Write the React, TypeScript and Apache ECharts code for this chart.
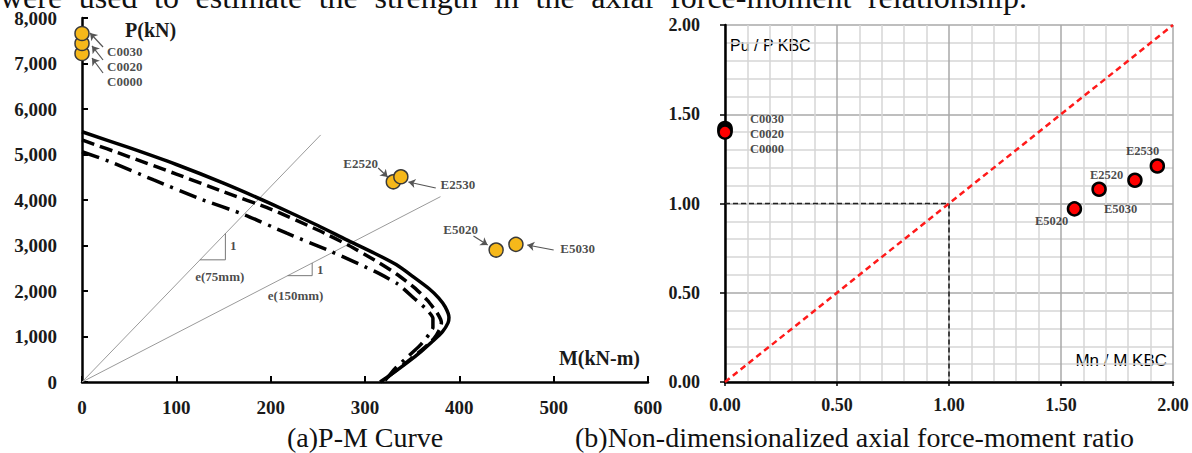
import React, { useEffect, useRef } from "react";
import * as echarts from "echarts";

// ---------- texts ----------
const TOP_TEXT = "were used to estimate the strength in the axial force-moment relationship.";
const CAPTION_A = "(a)P-M Curve";
const CAPTION_B = "(b)Non-dimensionalized axial force-moment ratio";

// ---------- (a) P-M curves : [M (kN-m), P (kN)] ----------
const PM_SOLID: number[][] = [[0, 5500], [50, 5150], [100, 4780], [150, 4370], [200, 3920], [250, 3440], [280, 3130], [310, 2830], [333, 2580], [352, 2300], [368, 2050], [378, 1850], [385, 1650], [389, 1420], [388, 1300], [382, 1100], [372, 900], [360, 680], [345, 430], [330, 200], [316, 0]];
const PM_DASHED: number[][] = [[0, 5320], [50, 4950], [100, 4570], [150, 4180], [200, 3800], [250, 3340], [283, 3000], [310, 2680], [333, 2380], [352, 2080], [366, 1800], [377, 1500], [381, 1300], [379, 1150], [373, 950], [360, 700], [345, 450], [331, 220], [318, 0]];
const PM_DASHDOT: number[][] = [[0, 5060], [30, 4840], [76, 4440], [124, 4035], [173, 3670], [217, 3270], [265, 2860], [311, 2425], [335, 2150], [352, 1840], [365, 1600], [372, 1400], [372, 1200], [368, 1050], [358, 800], [345, 550], [332, 300], [320, 0]];
const E75_LINE: number[][] = [[0, 0], [253, 5430]];
const E150_LINE: number[][] = [[0, 0], [380, 4073]];
const E75_TRI: number[][] = [[125, 2685], [152, 2685], [152, 3265]];
const E150_TRI: number[][] = [[218, 2337], [244, 2337], [244, 2616]];

// test specimens (a)
const C_NAMES = ["C0000", "C0020", "C0030"];
const C_M = [0, 0, 0];
const C_P = [7220, 7440, 7660];
const E_NAMES = ["E2520", "E2530", "E5020", "E5030"];
const E_M = [330, 338, 439, 460];
const E_P = [4400, 4510, 2900, 3025];

// annotation labels (a) : [M, P, text]
const A_LABELS: [number, number, string][] = [
  [26.5, 7260, "C0030"], [26.5, 6930, "C0020"], [26.5, 6600, "C0000"],
  [277, 4813, "E2520"], [380, 4330, "E2530"], [383, 3341, "E5020"], [507, 2945, "E5030"],
  [157, 3000, "1"], [249, 2470, "1"], [120, 2315, "e(75mm)"], [197, 1912, "e(150mm)"],
];
// annotation arrows (a) : tail -> head
const A_ARROWS: number[][][] = [
  [[22.3, 7363], [8.5, 7670]], [[22.3, 7077], [10.6, 7385]], [[22.3, 6791], [10.6, 7121]],
  [[314, 4703], [324, 4505]], [[375, 4264], [346, 4396]],
  [[415, 3209], [430, 3011]], [[500, 2901], [472, 3011]],
];

// ---------- (b) ratios : [Mn/M KBC, Pu/P KBC] ----------
const RC_NAMES = ["C0030", "C0020", "C0000"];
const RC_X = [0, 0, 0];
const RC_Y = [1.42, 1.41, 1.40];
const RE_NAMES = ["E5020", "E2520", "E5030", "E2530"];
const RE_X = [1.56, 1.67, 1.83, 1.93];
const RE_Y = [0.97, 1.08, 1.13, 1.21];
const DIAG: number[][] = [[0, 0], [2, 2]];
const GUIDE: number[][] = [[0, 1], [1, 1], [1, 0]];
const B_LABELS: [number, number, string][] = [
  [0.112, 1.473, "C0030"], [0.112, 1.389, "C0020"], [0.112, 1.305, "C0000"],
  [1.79, 1.296, "E2530"], [1.629, 1.16, "E2520"], [1.692, 0.969, "E5030"], [1.384, 0.904, "E5020"],
];

const SERIF = "'Liberation Serif', 'Times New Roman', serif";
const SANS = "'Liberation Sans', Arial, sans-serif";

function topWords(): any[] {
  const words = TOP_TEXT.split(" ");
  const size = 32;
  const canvas = document.createElement("canvas");
  const ctx = canvas.getContext("2d")!;
  ctx.font = `${size}px 'Liberation Serif'`;
  const widths = words.map((w) => ctx.measureText(w).width);
  const total = widths.reduce((a, b) => a + b, 0);
  const start = 0, end = 1027;
  const gap = (end - start - total) / (words.length - 1);
  let x = start;
  return words.map((w, i) => {
    const el = {
      type: "text",
      x,
      y: -3,
      style: { text: w, font: `${size}px ${SERIF}`, fill: "#111", verticalAlign: "middle", align: "left" },
    };
    x += widths[i] + gap;
    return el;
  });
}

export default function App() {
  const ref = useRef<HTMLDivElement>(null);
  useEffect(() => {
    if (!ref.current) return;
    const chart = echarts.init(ref.current, undefined, { renderer: "svg" });
    const tickLabel = { color: "#1a1a1a", fontFamily: SERIF, fontWeight: "bold" as const, fontSize: 19 };
    const annLabel = {
      show: true, position: "right" as const, distance: 0, formatter: "{b}",
      color: "#1a1a1a", fontFamily: SERIF, fontWeight: "bold" as const, fontSize: 13,
    };
    const option: any = {
      animation: false,
      backgroundColor: "#fff",
      grid: [
        { left: 82, top: 18, width: 566, height: 364 },
        { left: 725, top: 25, width: 448, height: 357 },
      ],
      xAxis: [
        {
          gridIndex: 0, type: "value", min: 0, max: 600, interval: 100,
          axisLine: { lineStyle: { color: "#000", width: 2.5 } },
          axisTick: { inside: true, length: 6, lineStyle: { color: "#000", width: 2 } },
          axisLabel: { ...tickLabel, margin: 16 },
          splitLine: { show: false },
        },
        {
          gridIndex: 1, type: "value", min: 0, max: 2, interval: 0.5,
          axisLine: { lineStyle: { color: "#000", width: 2.5 } },
          axisTick: { length: 4, lineStyle: { color: "#000", width: 1.5 } },
          axisLabel: { ...tickLabel, fontSize: 18, margin: 14, formatter: (v: number) => v.toFixed(2) },
          splitLine: { show: true, lineStyle: { color: "#a8a8a8", width: 1.5 } },
          minorTick: { show: false, splitNumber: 5 },
          minorSplitLine: { show: true, lineStyle: { color: "#d6d6d6", width: 1.5 } },
        },
      ],
      yAxis: [
        {
          gridIndex: 0, type: "value", min: 0, max: 8000, interval: 1000,
          axisLine: { lineStyle: { color: "#000", width: 2.5 } },
          axisTick: { inside: true, length: 6, lineStyle: { color: "#000", width: 2 } },
          axisLabel: { ...tickLabel, margin: 25, formatter: (v: number) => v.toLocaleString("en-US") },
          splitLine: { show: false },
        },
        {
          gridIndex: 1, type: "value", min: 0, max: 2, interval: 0.5,
          axisLine: { lineStyle: { color: "#000", width: 2.5 } },
          axisTick: { length: 5, lineStyle: { color: "#000", width: 1.5 } },
          axisLabel: { ...tickLabel, fontSize: 18, margin: 25, formatter: (v: number) => v.toFixed(2) },
          splitLine: { show: true, lineStyle: { color: "#a8a8a8", width: 1.5 } },
          minorTick: { show: false, splitNumber: 5 },
          minorSplitLine: { show: true, lineStyle: { color: "#d6d6d6", width: 1.5 } },
        },
      ],
      series: [
        // ---- (a) ----
        { type: "line", xAxisIndex: 0, yAxisIndex: 0, data: E75_LINE, showSymbol: false, lineStyle: { color: "#9a9a9a", width: 1 } },
        { type: "line", xAxisIndex: 0, yAxisIndex: 0, data: E150_LINE, showSymbol: false, lineStyle: { color: "#9a9a9a", width: 1 } },
        { type: "line", xAxisIndex: 0, yAxisIndex: 0, data: E75_TRI, showSymbol: false, lineStyle: { color: "#777", width: 1 } },
        { type: "line", xAxisIndex: 0, yAxisIndex: 0, data: E150_TRI, showSymbol: false, lineStyle: { color: "#777", width: 1 } },
        { type: "line", xAxisIndex: 0, yAxisIndex: 0, data: PM_DASHDOT, showSymbol: false, smooth: 0.2, lineStyle: { color: "#000", width: 3.5, type: [18, 7, 3, 7] } },
        { type: "line", xAxisIndex: 0, yAxisIndex: 0, data: PM_DASHED, showSymbol: false, smooth: 0.2, lineStyle: { color: "#000", width: 3.5, type: [13, 6] } },
        { type: "line", xAxisIndex: 0, yAxisIndex: 0, data: PM_SOLID, showSymbol: false, smooth: 0.2, lineStyle: { color: "#000", width: 3.5 } },
        {
          type: "lines", coordinateSystem: "cartesian2d", xAxisIndex: 0, yAxisIndex: 0,
          symbol: ["none", "arrow"], symbolSize: 7,
          lineStyle: { color: "#555", width: 1.2, opacity: 1 },
          data: A_ARROWS.map((c) => ({ coords: c })),
        },
        {
          type: "scatter", xAxisIndex: 0, yAxisIndex: 0, symbolSize: 14,
          itemStyle: { color: "#f6b81a", borderColor: "#3a3a3a", borderWidth: 1.5, opacity: 1 },
          data: C_NAMES.map((n, i) => ({ name: n, value: [C_M[i], C_P[i]] })),
        },
        {
          type: "scatter", xAxisIndex: 0, yAxisIndex: 0, symbolSize: 14,
          itemStyle: { color: "#f6b81a", borderColor: "#3a3a3a", borderWidth: 1.5, opacity: 1 },
          data: E_NAMES.map((n, i) => ({ name: n, value: [E_M[i], E_P[i]] })),
        },
        {
          type: "scatter", xAxisIndex: 0, yAxisIndex: 0, symbolSize: 0, silent: true,
          label: annLabel,
          data: A_LABELS.map((d) => ({ name: d[2], value: [d[0], d[1]] })),
        },
        // ---- (b) ----
        { type: "line", xAxisIndex: 1, yAxisIndex: 1, data: GUIDE, showSymbol: false, lineStyle: { color: "#222", width: 1.6, type: [5, 3] } },
        { type: "line", xAxisIndex: 1, yAxisIndex: 1, data: DIAG, showSymbol: false, lineStyle: { color: "#ff1a1a", width: 2.5, type: [6, 4] } },
        {
          type: "scatter", xAxisIndex: 1, yAxisIndex: 1, symbolSize: 13,
          itemStyle: { color: "#ff0000", borderColor: "#000", borderWidth: 2.5, opacity: 1 },
          data: RC_NAMES.map((n, i) => ({ name: n, value: [RC_X[i], RC_Y[i]] })),
        },
        {
          type: "scatter", xAxisIndex: 1, yAxisIndex: 1, symbolSize: 13,
          itemStyle: { color: "#ff0000", borderColor: "#000", borderWidth: 2.5, opacity: 1 },
          data: RE_NAMES.map((n, i) => ({ name: n, value: [RE_X[i], RE_Y[i]] })),
        },
        {
          type: "scatter", xAxisIndex: 1, yAxisIndex: 1, symbolSize: 0, silent: true,
          label: { ...annLabel, fontSize: 12.5 },
          data: B_LABELS.map((d) => ({ name: d[2], value: [d[0], d[1]] })),
        },
      ],
      graphic: [
        ...topWords(),
        { type: "text", x: 125, y: 30, style: { text: "P(kN)", font: `bold 20px ${SERIF}`, fill: "#1a1a1a", verticalAlign: "middle", align: "left" } },
        { type: "text", x: 640, y: 358, style: { text: "M(kN-m)", font: `bold 20px ${SERIF}`, fill: "#1a1a1a", verticalAlign: "middle", align: "right" } },
        { type: "text", x: 730, y: 45, style: { text: "Pu / P KBC", font: `16px ${SANS}`, fill: "#000", verticalAlign: "middle", align: "left" } },
        { type: "text", x: 1167, y: 360, style: { text: "Mn / M KBC", font: `17px ${SANS}`, fill: "#000", verticalAlign: "middle", align: "right" } },
        { type: "text", x: 287, y: 437.5, style: { text: CAPTION_A, font: `28px ${SERIF}`, fill: "#111", verticalAlign: "middle", align: "left" } },
        { type: "text", x: 575, y: 437.5, style: { text: CAPTION_B, font: `28px ${SERIF}`, fill: "#111", verticalAlign: "middle", align: "left" } },
      ],
    };
    chart.setOption(option);
    return () => chart.dispose();
  }, []);
  return (
    <div
      ref={ref}
      style={{ position: "fixed", left: 0, top: 0, width: 1192, height: 453, background: "#fff" }}
    />
  );
}
